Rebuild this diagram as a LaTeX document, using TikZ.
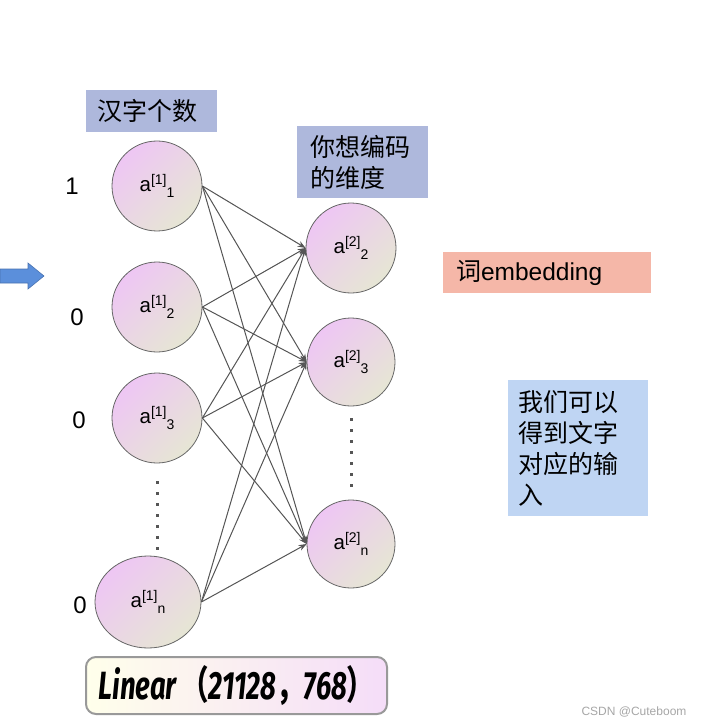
\documentclass[tikz,border=0pt]{standalone}
\usepackage{fontspec}
\setmainfont{Liberation Sans}
\newfontfamily\cjk{Noto Sans CJK SC}
\newfontfamily\linfont{Fira Sans}
\usetikzlibrary{shapes.geometric,arrows.meta}
\definecolor{edgegray}{HTML}{555555}
\definecolor{boxblue}{HTML}{AEB8DC}
\definecolor{boxsalmon}{HTML}{F5B7A8}
\definecolor{boxlight}{HTML}{BFD5F3}
\definecolor{pinkc}{HTML}{EEC6F4}
\definecolor{beigec}{HTML}{E6E6D4}
\definecolor{arrowblue}{HTML}{5B8FDB}
\newcommand{\act}[2]{a\raisebox{0.65ex}{\fontsize{14}{14}\selectfont[#1]}\raisebox{-0.55ex}{\fontsize{14}{14}\selectfont #2}}
\tikzset{
  neuron/.style={circle, draw=gray!80!black, line width=0.8pt, minimum size=90pt, inner sep=0pt,
    top color=pinkc, bottom color=beigec, shading angle=45, font=\fontsize{20.5}{20.5}\selectfont},
  conn/.style={draw=edgegray, line width=1pt, -{Stealth[length=8pt,width=6pt]}},
  dotline/.style={draw=edgegray, line width=3pt, dash pattern=on 3pt off 8pt},
  inlabel/.style={font=\fontsize{24}{24}\selectfont},
  cjkbox/.style={inner sep=0pt, font=\cjk\fontsize{25}{31}\selectfont, align=left}
}
\begin{document}
\begin{tikzpicture}[x=1pt,y=-1pt]
\useasboundingbox (0,0) rectangle (706,727);
% left arrow
\filldraw[fill=arrowblue, draw=arrowblue!80!black, line width=0.6pt]
  (0,269) -- (28,269) -- (28,263) -- (44,276) -- (28,289) -- (28,283) -- (0,283) -- cycle;
% boxes
\node[cjkbox, fill=boxblue, minimum width=131pt, minimum height=42pt, text width=109pt] (hz) at (151.5,111) {汉字个数};
\node[cjkbox, fill=boxblue, minimum width=131pt, minimum height=72pt, text width=105pt] (dim) at (362.5,162) {你想编码\\的维度};
\node[fill=boxsalmon, minimum width=208pt, minimum height=41pt, inner sep=0pt, text width=182pt, align=left] (emb) at (547,272.5)
  {{\cjk\fontsize{25}{25}\selectfont 词}{\fontsize{24.5}{24.5}\selectfont embedding}};
\node[cjkbox, fill=boxlight, minimum width=140pt, minimum height=136pt, text width=120pt] (res) at (578,448) {我们可以\\得到文字\\对应的输\\入};
% neurons
\node[neuron] (L1) at (157,186) {\act{1}{1}};
\node[neuron] (L2) at (157,307) {\act{1}{2}};
\node[neuron] (L3) at (157,418) {\act{1}{3}};
\node[neuron, ellipse, minimum width=106pt, minimum height=92pt] (Ln) at (148,602) {\act{1}{n}};
\node[neuron] (R2) at (351,248) {\act{2}{2}};
\node[neuron, minimum size=88pt] (R3) at (351,362) {\act{2}{3}};
\node[neuron, minimum size=88pt] (Rn) at (351,544) {\act{2}{n}};
% inputs
\node[inlabel] (i1) at (72,186) {1};
\node[inlabel] (i2) at (77,317) {0};
\node[inlabel] (i3) at (79,420) {0};
\node[inlabel] (i4) at (80,605) {0};
% dots
\coordinate (dl1) at (157,481);
\coordinate (dl2) at (157,552);
\coordinate (dr1) at (351,418);
\coordinate (dr2) at (351,492);
\draw[dotline] (dl1) -- (dl2);
\draw[dotline] (dr1) -- (dr2);
% connections
\foreach \a in {L1,L2,L3,Ln}{
  \foreach \b in {R2,R3,Rn}{
    \draw[conn] (\a.east) -- (\b.west);
  }
}
% linear box
\node[draw=gray!80, line width=2pt, rounded corners=10pt, left color=yellow!8!white, right color=pinkc!60!white,
  minimum width=301pt, minimum height=57pt, inner sep=0pt] (lin) at (236.5,685.5)
  {\resizebox{276pt}{34pt}{\linfont\bfseries\itshape Linear\,{\cjk（}21128{\cjk，}768{\cjk）}}};
% watermark
\node[text=gray!70, font=\fontsize{12}{12}\selectfont] (wm) at (634,712) {CSDN @Cuteboom};
\end{tikzpicture}
\end{document}
